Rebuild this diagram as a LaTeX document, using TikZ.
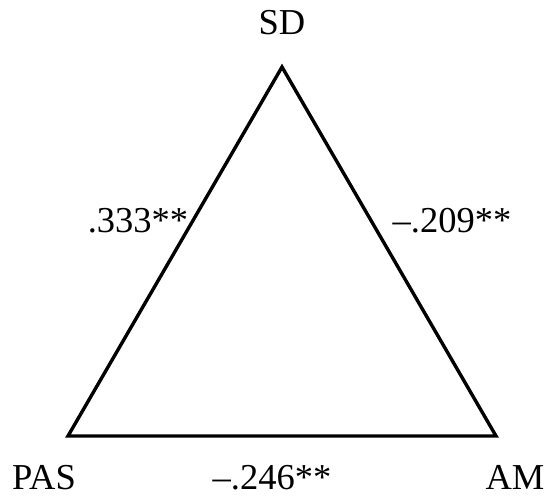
\documentclass[tikz,border=0pt]{standalone}
\usepackage{fontspec}
\setmainfont{Liberation Serif}
\begin{document}
\begin{tikzpicture}[x=1pt,y=1pt,
  lbl/.style={inner sep=0pt,anchor=base,font=\fontsize{36.5}{42}\selectfont},
  edge/.style={line width=3.4pt,line join=miter}]
\useasboundingbox (0,0) rectangle (549,498);
\coordinate (sd) at (282,431);
\coordinate (pas) at (68,62);
\coordinate (am) at (496,62);
\draw[edge] (sd) -- (pas) -- (am) -- cycle;
\node[lbl] (tsd) at (282,463) {SD};
\node[lbl] (tpas) at (44,8) {PAS};
\node[lbl] (tam) at (515,8) {AM};
\node[lbl] (tb) at (272,8) {–.246**};
\node[lbl] (tl) at (138,265) {.333**};
\node[lbl] (tr) at (452,265) {–.209**};
\end{tikzpicture}
\end{document}
